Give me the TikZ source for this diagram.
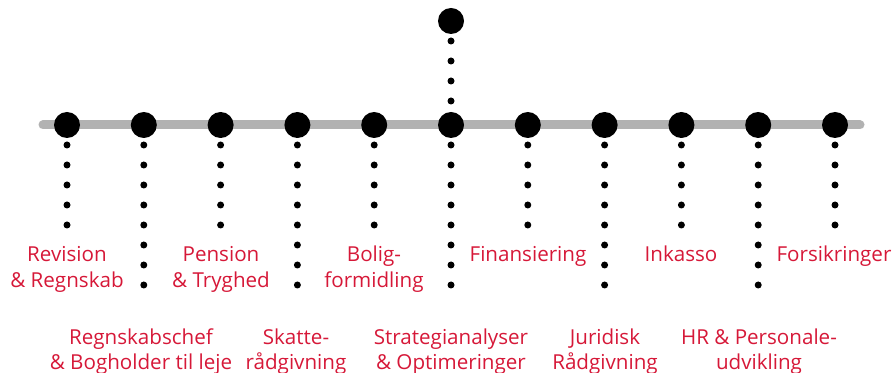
\documentclass[tikz,border=0pt]{standalone}
\usepackage{fontspec}
\setmainfont{Open Sans}
\usepackage{xcolor}
\definecolor{areared}{RGB}{214,24,56}

\tikzset{
  bigdot/.style={circle, fill=black, minimum size=13pt, inner sep=0pt},
  dotline/.style={line width=3.5pt, line cap=round, dash pattern=on 0pt off 10pt},
  area/.style={text=areared, font=\fontsize{10.3}{13}\selectfont, align=center, anchor=base, inner sep=0pt}
}

\begin{document}
\begin{tikzpicture}[x=0.5pt, y=-0.5pt]
\useasboundingbox (0,0) rectangle (893,373);
\coordinate (lineL) at (43,125);
\coordinate (lineR) at (860,125);
\draw[line width=4.5pt, line cap=round, black!30] (lineL) -- (lineR);
% the dots on the line, with their dotted tails
\foreach \i in {0,...,10}{
  \pgfmathsetmacro\px{67+76.8*\i}
  \node[bigdot] (p\i) at (\px,125) {};
  \ifodd\i
    \coordinate (e\i) at (\px,305);
  \else
    \coordinate (e\i) at (\px,227);
  \fi
  \draw[dotline] (p\i.center) -- (e\i);
}
\node[bigdot] (top) at (451,21) {};
\draw[dotline] (top.center) -- (p5.center);

% labels: y is the baseline of the last line
\node[area] (l0) at (67,288) {Revision\\\& Regnskab};
\node[area] (l1) at (141,370) {Regnskabschef\\\& Bogholder til leje};
\node[area] (l2) at (221,288) {Pension\\\& Tryghed};
\node[area] (l3) at (296,370) {Skatte-\\rådgivning};
\node[area] (l4) at (374,288) {Bolig-\\formidling};
\node[area] (l5) at (451,370) {Strategianalyser\\\& Optimeringer};
\node[area] (l6) at (528,262) {Finansiering};
\node[area] (l7) at (605,370) {Juridisk\\Rådgivning};
\node[area] (l8) at (681,262) {Inkasso};
\node[area] (l9) at (759,370) {HR \& Personale-\\udvikling};
\node[area] (l10) at (834,262) {Forsikringer};
\end{tikzpicture}
\end{document}
